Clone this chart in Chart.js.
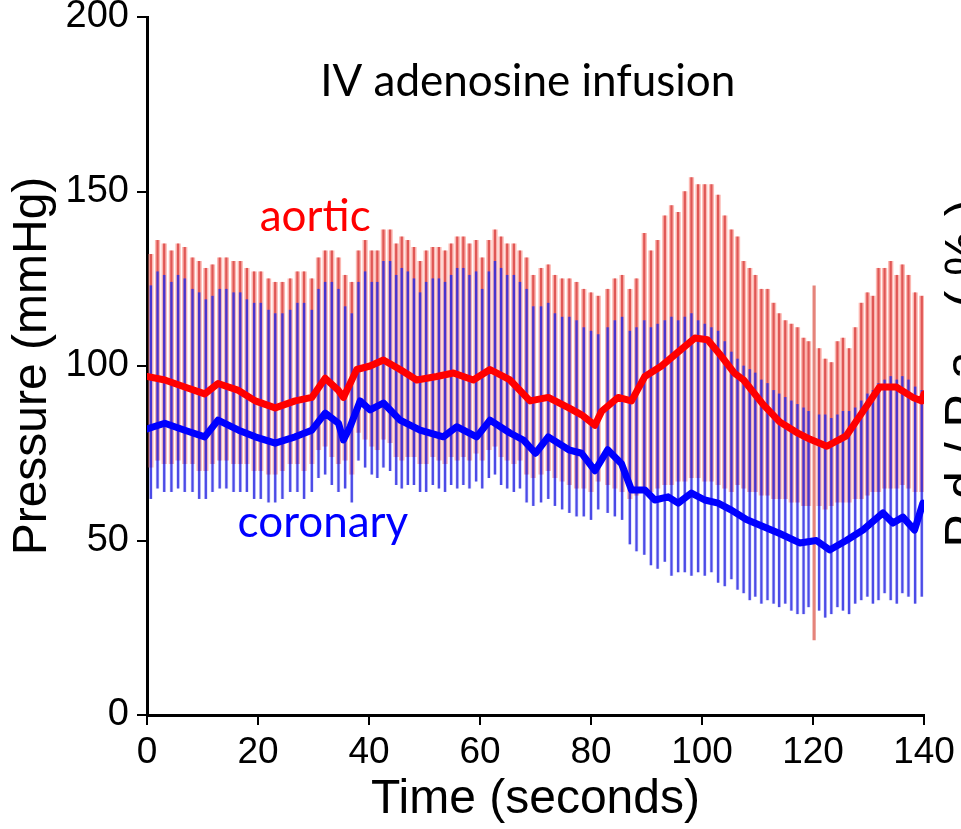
<!DOCTYPE html>
<html>
<head>
<meta charset="utf-8">
<script src="https://cdn.jsdelivr.net/npm/chart.js@4.4.1/dist/chart.umd.min.js"></script>
<style>
  html, body { margin: 0; padding: 0; background: #fff; }
  canvas { display: block; }
</style>
</head>
<body>
<canvas id="chart" width="961" height="829"></canvas>
<script>
// beat-by-beat pressures (time in s, pressure in mmHg)
const beatTimes = [
  0.7, 1.9, 3.1, 4.4, 5.6, 6.8, 8.2, 9.4, 10.6, 11.8, 13.1, 14.3, 15.6, 16.8, 18.0, 19.3, 20.5, 21.9, 23.1, 24.4, 25.8, 27.1, 28.3, 29.7, 30.9, 32.1, 33.3, 34.5,
  35.7, 36.9, 38.1, 39.3, 40.5, 41.5, 42.6, 43.8, 44.9, 45.9, 47.0, 48.1, 49.2, 50.3, 51.5, 52.6, 53.7, 54.8, 55.9, 57.0, 58.1, 59.3, 60.4, 61.6, 62.7, 63.8, 64.9, 66.1, 67.2, 68.4, 69.6,
  71.0, 72.3, 73.5, 74.8, 76.1, 77.4, 78.7, 80.0, 81.3, 83.0, 84.3, 85.6, 87.0, 88.2, 89.6, 90.8, 92.0, 93.3, 94.5, 95.7, 96.9, 98.1, 99.3, 100.5, 101.7, 102.9, 104.1, 105.3,
  106.4, 107.5, 108.6, 109.6, 110.7, 111.8, 112.9, 113.9, 115.0, 116.1, 117.2, 118.3, 119.2, 121.1, 122.2, 123.3, 124.4, 125.4, 126.5, 127.6, 128.7, 129.8, 130.8, 131.8, 132.9, 134.0, 135.1, 136.1, 137.2, 138.4, 139.6
];
const aorticSys = [
  132, 136, 135, 133, 135, 134, 131, 130, 128, 129, 131, 131, 130, 130, 128, 127, 127, 125, 124, 124, 125, 127, 127, 125, 131, 133, 133, 131,
  126, 124, 133, 136, 133, 133, 139, 139, 135, 137, 136, 134, 130, 133, 134, 134, 133, 135, 137, 137, 135, 136, 131, 136, 139, 137, 135, 135, 133, 131, 126,
  128, 129, 126, 125, 125, 124, 122, 121, 120, 122, 125, 126, 122, 125, 138, 133, 136, 143, 146, 144, 150, 154, 152, 152, 152, 149, 143, 139,
  137, 130, 128, 126, 122, 122, 118, 115, 113, 112, 111, 108, 107, 105, 102, 101, 107, 108, 105, 111, 118, 121, 120, 128, 128, 130, 126, 129, 126, 121, 120
];
const aorticDia = [
  71, 73, 72, 72, 73, 72, 72, 70, 70, 72, 73, 73, 72, 72, 72, 70, 70, 69, 69, 70, 72, 72, 70, 72, 76, 77, 74, 72,
  73, 69, 81, 79, 77, 76, 79, 78, 74, 73, 74, 74, 72, 72, 74, 73, 72, 74, 73, 74, 73, 75, 73, 76, 77, 74, 73, 72, 73, 69, 68,
  69, 70, 68, 67, 66, 65, 65, 64, 67, 66, 65, 64, 62, 63, 64, 64, 65, 66, 66, 67, 67, 68, 68, 67, 67, 66, 65, 64,
  66, 65, 64, 64, 63, 63, 62, 62, 62, 61, 61, 60, 60, 60, 59, 60, 61, 61, 61, 62, 62, 63, 64, 64, 65, 65, 65, 66, 65, 64, 64
];
const coronarySys = [
  123, 127, 126, 124, 126, 125, 122, 121, 119, 120, 122, 122, 121, 121, 119, 118, 118, 116, 115, 115, 116, 118, 118, 116, 122, 124, 124, 122,
  117, 115, 124, 127, 124, 124, 130, 130, 126, 128, 127, 125, 121, 124, 125, 125, 124, 126, 128, 128, 126, 127, 122, 127, 130, 128, 126, 126, 124, 122, 117,
  117, 118, 115, 114, 114, 113, 111, 110, 109, 111, 113, 114, 110, 111, 113, 111, 112, 113, 114, 113, 114, 115, 113, 112, 111, 110, 107, 104,
  102, 100, 99, 98, 96, 95, 93, 92, 91, 90, 89, 88, 87, 86, 86, 85, 86, 87, 87, 88, 90, 92, 93, 95, 96, 97, 96, 97, 96, 94, 93
];
const coronaryDia = [
  62, 65, 64, 64, 65, 64, 64, 62, 62, 64, 65, 65, 64, 64, 64, 62, 62, 61, 61, 62, 64, 64, 62, 64, 68, 69, 66, 64,
  65, 61, 73, 71, 69, 68, 71, 70, 66, 65, 66, 66, 64, 64, 66, 65, 64, 66, 65, 66, 65, 67, 65, 68, 69, 66, 65, 64, 65, 61, 60,
  61, 62, 60, 59, 58, 57, 57, 56, 59, 58, 57, 56, 49, 47, 46, 43, 42, 44, 40, 41, 41, 40, 41, 40, 41, 38, 37, 39,
  36, 35, 33, 34, 32, 33, 32, 31, 32, 30, 29, 29, 31, 30, 28, 29, 31, 30, 29, 32, 33, 34, 32, 33, 35, 33, 32, 35, 34, 32, 34
];

// single artefact spike near 120 s
const artifactTimes = [120.2];
const artifactLow = [21.5];
const artifactHigh = [123];

// running mean pressures
const aorticMeanTimes = [0, 3.2, 6.8, 10.4, 12.8, 16.5, 19.5, 23.1, 26.7, 29.7, 32.1, 34.5, 35.4, 37.8, 40.2, 42.6, 45.6, 48.6, 52.2, 55.2, 58.8, 61.8, 65.4, 69, 72.3, 76, 78.3, 80.7, 81.9, 84.9, 87.3, 89.7, 92.7, 95.7, 98.7, 101, 103.4, 105.8, 107.5, 111, 114, 117, 119.5, 122.5, 126, 129, 132, 135, 138, 139.6, 140];
const aorticMean = [97, 96, 94, 92, 95, 93, 90, 88, 90, 91, 96.5, 93, 91, 99, 100, 101.7, 99, 96, 97, 98, 96, 99, 96, 90, 91, 88, 86, 83, 87, 91, 90, 97, 100, 104, 108, 107.5, 103, 98, 96, 89, 84, 81, 79, 77, 80, 87, 94, 94, 91, 90, 92];
const coronaryMeanTimes = [0, 3.2, 6.8, 10.4, 12.8, 16.5, 19.5, 23.1, 26.7, 29.7, 32.1, 34.5, 35.4, 36.6, 38.4, 40.2, 42.6, 45.6, 49.2, 53.4, 55.8, 59.4, 61.8, 65.4, 67.8, 70, 72.3, 76, 78.3, 80.7, 83, 85.5, 87.3, 89.7, 91.5, 93.9, 95.7, 98.1, 100.5, 102.9, 105.3, 108, 111, 114, 117.6, 120.6, 123, 126, 129, 132.6, 134.4, 136.2, 138.3, 139.8];
const coronaryMean = [82, 83.6, 81.6, 79.7, 84.5, 81.6, 79.7, 77.9, 79.7, 81.6, 86.5, 83.6, 78.8, 82.6, 90, 87.4, 89.4, 84.5, 81.6, 79.7, 82.6, 79.7, 84.5, 80.8, 78.8, 75, 79.7, 76, 75, 70, 76, 72, 64.5, 64.5, 61.6, 62.5, 60.7, 63.6, 61.6, 60.7, 58.7, 56, 54, 52, 49.3, 50, 47.3, 50, 53, 57.9, 55, 56.7, 53, 60.7];

const xTicks = [0, 20, 40, 60, 80, 100, 120, 140];
const yTicks = [0, 50, 100, 150, 200];

// turn the arrays into chart points
const spikes = (lo, hi) => beatTimes.map((t, i) => ({ x: t, y: [lo[i], hi[i]] }));
const points = (ts, vs) => ts.map((t, i) => ({ x: t, y: vs[i] }));

function spikeSet(data, color, width, order) {
  return {
    type: 'bar', data: data, backgroundColor: color, borderWidth: 0,
    barThickness: width, grouped: false, order: order
  };
}

function meanSet(data, color, order) {
  return {
    type: 'line', data: data, borderColor: color, borderWidth: 7,
    pointRadius: 0, tension: 0, fill: false, order: order,
    borderJoinStyle: 'round', borderCapStyle: 'round'
  };
}

// free text on the plot, placed in data coordinates
const textPlugin = {
  id: 'texts',
  afterDraw(chart) {
    const c = chart.ctx, x = chart.scales.x, y = chart.scales.y;
    c.save();
    c.textAlign = 'center';
    c.textBaseline = 'middle';
    c.font = '44px Lato, "Open Sans", sans-serif';
    c.fillStyle = '#000';
    c.fillText('IV adenosine infusion', x.getPixelForValue(68.6), y.getPixelForValue(181.4));
    c.fillStyle = '#ff0000';
    c.fillText('aortic', x.getPixelForValue(30.3), y.getPixelForValue(142.7));
    c.fillStyle = '#0000ff';
    c.fillText('coronary', x.getPixelForValue(31.7), y.getPixelForValue(55));
    // right-hand axis title, cut by the page edge
    c.fillStyle = '#000';
    c.font = '50px "Liberation Sans", Arial, sans-serif';
    c.textBaseline = 'alphabetic';
    c.letterSpacing = '15px';
    c.translate(980, 366);
    c.rotate(-Math.PI / 2);
    c.fillText('Pd/Pa (%)', 0, 0);
    c.restore();
  }
};

const axisFont = { family: '"Liberation Sans", Arial, sans-serif', size: 38 };
const tickGrid = { drawOnChartArea: false, drawTicks: true, tickLength: 10, color: '#000', lineWidth: 2, offset: false };

new Chart(document.getElementById('chart').getContext('2d'), {
  type: 'bar',
  data: {
    datasets: [
      meanSet(points(aorticMeanTimes, aorticMean), '#ff0000', 1),
      meanSet(points(coronaryMeanTimes, coronaryMean), '#0000ff', 0),
      {
        type: 'bar', data: artifactTimes.map((t, i) => ({ x: t, y: [artifactLow[i], artifactHigh[i]] })),
        backgroundColor: 'rgba(225,110,100,0.85)', borderWidth: 0, barThickness: 2.5, grouped: false, order: 2
      },
      spikeSet(spikes(coronaryDia, coronarySys), 'rgba(40,40,225,0.8)', 1.6, 3),
      spikeSet(spikes(coronaryDia, coronarySys), 'rgba(130,130,250,0.3)', 3, 4),
      spikeSet(spikes(aorticDia, aorticSys), 'rgba(215,55,55,0.75)', 1.6, 5),
      spikeSet(spikes(aorticDia, aorticSys), 'rgba(250,125,115,0.55)', 4.6, 6)
    ]
  },
  options: {
    responsive: false,
    animation: false,
    layout: { padding: { top: 17, right: 37, left: 0, bottom: 0 } },
    plugins: { legend: { display: false }, tooltip: { enabled: false } },
    scales: {
      x: {
        type: 'linear', min: 0, max: 140, offset: false,
        afterBuildTicks: s => { s.ticks = xTicks.map(v => ({ value: v })); },
        afterFit: s => { s.height = 114; s.paddingLeft = 0; s.paddingRight = 0; },
        ticks: { font: { ...axisFont, size: 37 }, color: '#000', padding: 6, maxRotation: 0, autoSkip: false },
        grid: tickGrid,
        border: { display: true, color: '#000', width: 3 },
        title: { display: true, text: 'Time (seconds)', color: '#000', font: { ...axisFont, size: 48 }, padding: { top: 0, bottom: 0 } }
      },
      y: {
        min: 0, max: 200,
        afterBuildTicks: s => { s.ticks = yTicks.map(v => ({ value: v })); },
        afterFit: s => { s.width = 147; s.paddingTop = 0; s.paddingBottom = 0; },
        ticks: { font: axisFont, color: '#000', padding: 8 },
        grid: tickGrid,
        border: { display: true, color: '#000', width: 3 },
        title: { display: true, text: 'Pressure (mmHg)', color: '#000', font: { ...axisFont, size: 48 }, padding: { top: 4, bottom: 0 } }
      }
    }
  },
  plugins: [textPlugin]
});
</script>
</body>
</html>
